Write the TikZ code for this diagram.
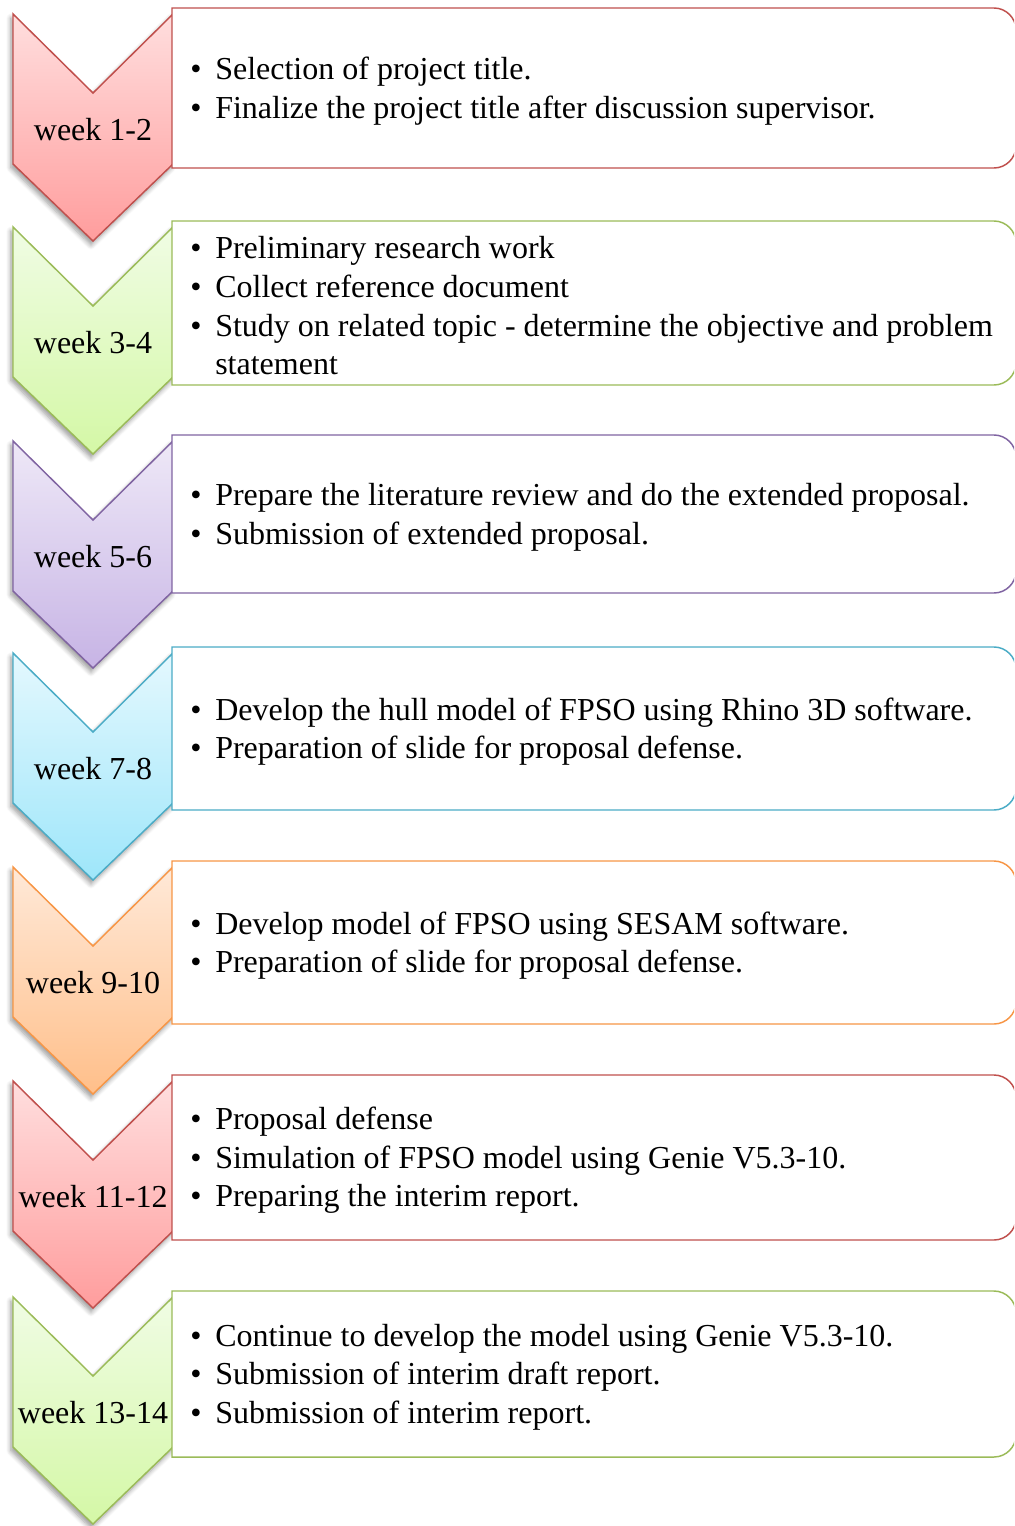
\documentclass[tikz,border=0pt]{standalone}
\usepackage{fontspec}
\setmainfont{Liberation Serif}
\usetikzlibrary{shadows.blur}

% border, top and bottom shades for each colour scheme
\definecolor{redE}{HTML}{C0504D}\definecolor{redT}{HTML}{FFDEDE}\definecolor{redB}{HTML}{FF9D9D}
\definecolor{grnE}{HTML}{9BBB59}\definecolor{grnT}{HTML}{F0FCE4}\definecolor{grnB}{HTML}{D4F8A6}
\definecolor{purE}{HTML}{8064A2}\definecolor{purT}{HTML}{EEE8F7}\definecolor{purB}{HTML}{C7B4E5}
\definecolor{bluE}{HTML}{4BACC6}\definecolor{bluT}{HTML}{E4F8FE}\definecolor{bluB}{HTML}{9EE6FA}
\definecolor{orgE}{HTML}{F79646}\definecolor{orgT}{HTML}{FFE9D8}\definecolor{orgB}{HTML}{FFBF8A}

\tikzset{
  chev/.style={draw=#1E, line width=1.1pt, line join=miter, top color=#1T, bottom color=#1B,
    blur shadow={shadow xshift=-1.5pt, shadow yshift=-3pt, shadow blur steps=6,
                 shadow blur radius=3.5pt, shadow opacity=40}},
  taskbox/.style={draw=#1E, fill=white, line width=1.1pt},
  wk/.style={inner sep=0pt, font=\fontsize{24pt}{29pt}\selectfont},
  items/.style={anchor=west, inner sep=0pt, align=left, font=\fontsize{24pt}{29pt}\selectfont},
}

\newcommand\bul[1]{\makebox[18.75pt][l]{\textbullet}#1}
\newcommand\cont[1]{\hspace*{18.75pt}#1}

% #1 top, #2 bottom, #3 colour scheme, #4 name, #5 week label, #6 task lines
\newcommand\weekrow[6]{%
  \path[chev=#3] (13,#1+6) -- (93,#1+85) -- (173,#1+6) -- (173,#1+156)
        -- (93,#1+233) -- (13,#1+156) -- cycle;
  \draw[taskbox=#3] (172,#1) -- (994,#1) .. controls (1006,#1) and (1016,#1+10) .. (1016,#1+22)
        -- (1016,#2-22) .. controls (1016,#2-10) and (1006,#2) .. (994,#2) -- (172,#2) -- cycle;
  \node[wk] (#4w) at (93,#1+122) {#5};
  \node[items] (#4t) at (190,{(#1+#2)/2+3}) {#6};
}

\begin{document}
\begin{tikzpicture}[x=0.75pt, y=-0.75pt]
  \useasboundingbox (0,0) rectangle (1014,1526);
  \clip (0,0) rectangle (1014,1526);

  \weekrow{8}{168}{red}{ra}{week 1-2}{%
    \bul{Selection of project title.}\\
    \bul{Finalize the project title after discussion supervisor.}}

  \weekrow{221}{385}{grn}{rb}{week 3-4}{%
    \bul{Preliminary research work}\\
    \bul{Collect reference document}\\
    \bul{Study on related topic - determine the objective and problem}\\
    \cont{statement}}

  \weekrow{435}{593}{pur}{rc}{week 5-6}{%
    \bul{Prepare the literature review and do the extended proposal.}\\
    \bul{Submission of extended proposal.}}

  \weekrow{647}{810}{blu}{rd}{week 7-8}{%
    \bul{Develop the hull model of FPSO using Rhino 3D software.}\\
    \bul{Preparation of slide for proposal defense.}}

  \weekrow{861}{1024}{org}{re}{week 9-10}{%
    \bul{Develop model of FPSO using SESAM software.}\\
    \bul{Preparation of slide for proposal defense.}}

  \weekrow{1075}{1240}{red}{rf}{week 11-12}{%
    \bul{Proposal defense}\\
    \bul{Simulation of FPSO model using Genie V5.3-10.}\\
    \bul{Preparing the interim report.}}

  \weekrow{1291}{1457}{grn}{rg}{week 13-14}{%
    \bul{Continue to develop the model using Genie V5.3-10.}\\
    \bul{Submission of interim draft report.}\\
    \bul{Submission of interim report.}}
\end{tikzpicture}
\end{document}
